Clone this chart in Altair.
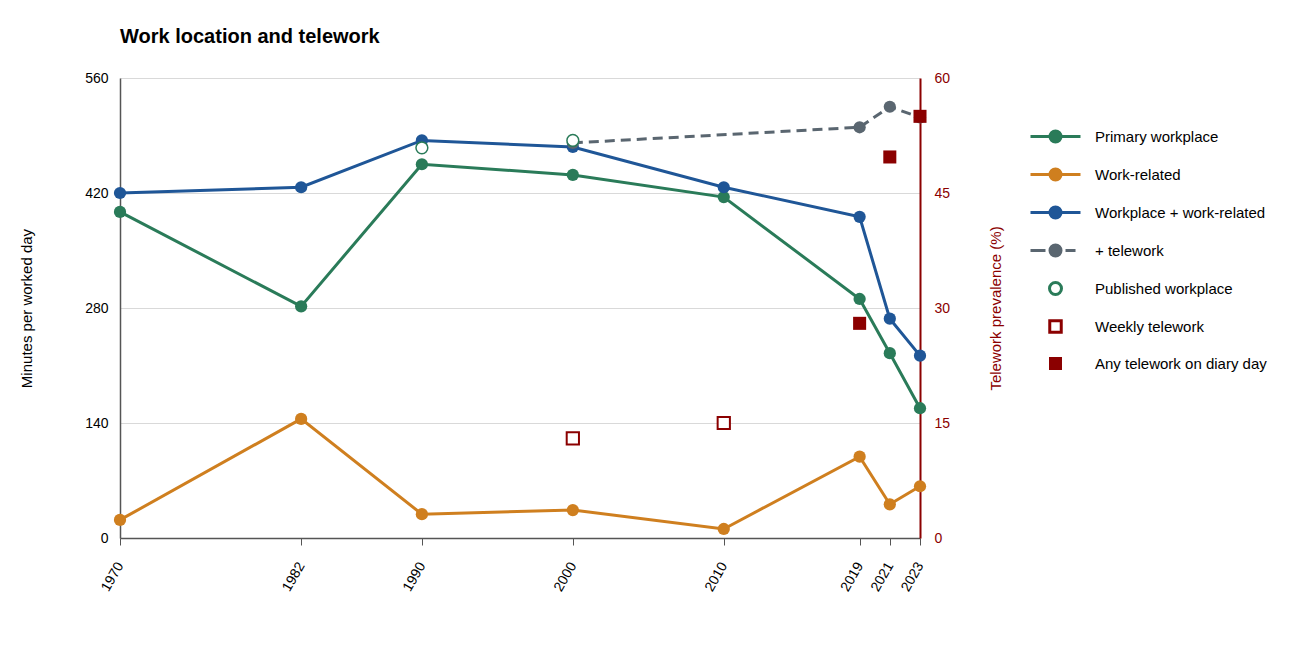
import altair as alt
import pandas as pd

# Survey years on the x axis
years = [1970, 1982, 1990, 2000, 2010, 2019, 2021, 2023]

# Minutes per worked day (left axis)
primary_workplace = [397, 282, 455, 442, 415, 291, 225, 158]
work_related = [22, 145, 29, 34, 11, 99, 41, 63]
workplace_plus_related = [420, 427, 484, 476, 427, 391, 267, 222]

telework_years = [2000, 2019, 2021, 2023]
plus_telework = [481, 500, 525, 512]

published_years = [1990, 2000]
published_workplace = [475, 484]

# Telework prevalence in percent (right axis)
weekly_years = [2000, 2010]
weekly_telework = [13, 15]

diary_years = [2019, 2021, 2023]
diary_telework = [28, 49.7, 55]

left_ticks = [0, 140, 280, 420, 560]
right_ticks = [0, 15, 30, 45, 60]

GREEN = "#2a7b59"
ORANGE = "#cf7f1f"
BLUE = "#1f5697"
GREY = "#5a6670"
DARKRED = "#8b0000"
FONT = "Liberation Sans"

series_names = [
    "Primary workplace",
    "Work-related",
    "Workplace + work-related",
    "+ telework",
    "Published workplace",
    "Weekly telework",
    "Any telework on diary day",
]


# Legend glyphs are stroke-only paths (one unit = 7 px); solid areas are
# built from concentric rings so they need no fill.
def ring(r):
    return f"M{-r},0A{r},{r},0,1,1,{r},0A{r},{r},0,1,1,{-r},0Z"


def box(h):
    return f"M{-h},{-h}H{h}V{h}H{-h}Z"


SOLID_DOT = ring(0.786) + ring(0.5) + ring(0.214)
LINE_DOT = "M-3.571,0L3.571,0" + SOLID_DOT
DASH_DOT = "M-3.571,0L-1.43,0M1.43,0L2.86,0" + SOLID_DOT
OPEN_CIRCLE = ring(0.857)
OPEN_SQUARE = box(0.82)
SOLID_SQUARE = box(0.714) + box(0.357) + box(0.05)


def frame(xs, ys):
    return pd.DataFrame({"year": xs, "value": ys})


X = alt.X(
    "year:Q",
    scale=alt.Scale(domain=[1970, 2023], nice=False, zero=False),
    axis=alt.Axis(
        values=years, format="d", title=None, grid=False,
        labelAngle=-60, labelAlign="right", labelBaseline="middle",
        labelFont=FONT, labelFontSize=14, labelColor="#000000", labelPadding=18,
        domainColor="#555555", domainWidth=1.5, tickColor="#555555",
        tickSize=7, tickWidth=1,
    ),
)

Y_LEFT = alt.Y(
    "value:Q",
    scale=alt.Scale(domain=[0, 560], nice=False),
    axis=alt.Axis(
        values=left_ticks, title="Minutes per worked day",
        titleFont=FONT, titleFontSize=15, titleFontWeight="normal",
        titleColor="#000000", titlePadding=50,
        labelFont=FONT, labelFontSize=14, labelColor="#000000", labelPadding=12,
        ticks=False, domainColor="#555555", domainWidth=1.5,
        grid=True, gridColor="#d9d9d9", gridWidth=1,
    ),
)

Y_RIGHT = alt.Y(
    "value:Q",
    scale=alt.Scale(domain=[0, 60], nice=False),
    axis=alt.Axis(
        orient="right", values=right_ticks, title="Telework prevalence (%)",
        titleFont=FONT, titleFontSize=15, titleFontWeight="normal",
        titleColor=DARKRED, titlePadding=54, titleAngle=270,
        labelFont=FONT, labelFontSize=14, labelColor=DARKRED, labelPadding=14,
        ticks=False, domainColor=DARKRED, domainWidth=2, grid=False,
    ),
)


def line_series(xs, ys, color, dash=None):
    base = alt.Chart(frame(xs, ys))
    line_kw = dict(color=color, strokeWidth=3)
    if dash is not None:
        line_kw["strokeDash"] = dash
    line = base.mark_line(**line_kw).encode(x=X, y=Y_LEFT)
    dots = base.mark_point(filled=True, color=color, size=150, opacity=1).encode(x=X, y=Y_LEFT)
    return [line, dots]


left_layers = []
left_layers += line_series(years, primary_workplace, GREEN)
left_layers += line_series(years, work_related, ORANGE)
left_layers += line_series(years, workplace_plus_related, BLUE)
left_layers += line_series(telework_years, plus_telework, GREY, dash=[10, 6])

published = alt.Chart(frame(published_years, published_workplace)).mark_point(
    shape="circle", size=140, fill="#ffffff", stroke=GREEN, strokeWidth=1.5,
    filled=False, opacity=1,
).encode(x=X, y=Y_LEFT)
left_layers.append(published)


def legend_scale(values):
    return alt.Scale(domain=series_names, range=values)


LEGEND_POS = dict(orient="none", legendX=927, legendY=50)

# Invisible layer that carries the legend entries
legend_layer = alt.Chart(pd.DataFrame({"series": series_names})).mark_point(
    filled=False, opacity=0
).encode(
    stroke=alt.Stroke(
        "series:O",
        scale=legend_scale([GREEN, ORANGE, BLUE, GREY, GREEN, DARKRED, DARKRED]),
        legend=alt.Legend(
            title=None, **LEGEND_POS,
            labelFont=FONT, labelFontSize=15, labelColor="#000000",
            labelLimit=400, labelOffset=31, rowPadding=13, symbolOpacity=1,
        ),
    ),
    shape=alt.Shape(
        "series:O",
        scale=legend_scale([LINE_DOT, LINE_DOT, LINE_DOT, DASH_DOT,
                            OPEN_CIRCLE, OPEN_SQUARE, SOLID_SQUARE]),
        legend=alt.Legend(title=None, **LEGEND_POS),
    ),
    size=alt.Size(
        "series:O",
        scale=legend_scale([196] * 7),
        legend=alt.Legend(title=None, **LEGEND_POS),
    ),
    strokeWidth=alt.StrokeWidth(
        "series:O",
        scale=legend_scale([3, 3, 3, 3, 1.5, 2, 3]),
        legend=alt.Legend(title=None, **LEGEND_POS),
    ),
)
left_layers.append(legend_layer)

weekly = alt.Chart(frame(weekly_years, weekly_telework)).mark_point(
    shape="square", size=150, fill="#ffffff", stroke=DARKRED, strokeWidth=2,
    filled=False, opacity=1,
).encode(x=X, y=Y_RIGHT)

diary = alt.Chart(frame(diary_years, diary_telework)).mark_point(
    shape="square", size=170, filled=True, color=DARKRED, opacity=1,
).encode(x=X, y=Y_RIGHT)

left = alt.layer(*left_layers)
right = alt.layer(weekly, diary)

chart = (
    alt.layer(left, right)
    .resolve_scale(y="independent")
    .properties(
        width=800,
        height=460,
        padding={"left": 19, "top": 27, "right": 10, "bottom": 10},
        title=alt.Title(
            "Work location and telework", anchor="start", frame="group",
            font=FONT, fontSize=20, fontWeight="bold", color="#000000", offset=24,
        ),
    )
    .configure_view(stroke=None)
)

chart.save("out.html", embed_options={"renderer": "svg", "actions": False})
